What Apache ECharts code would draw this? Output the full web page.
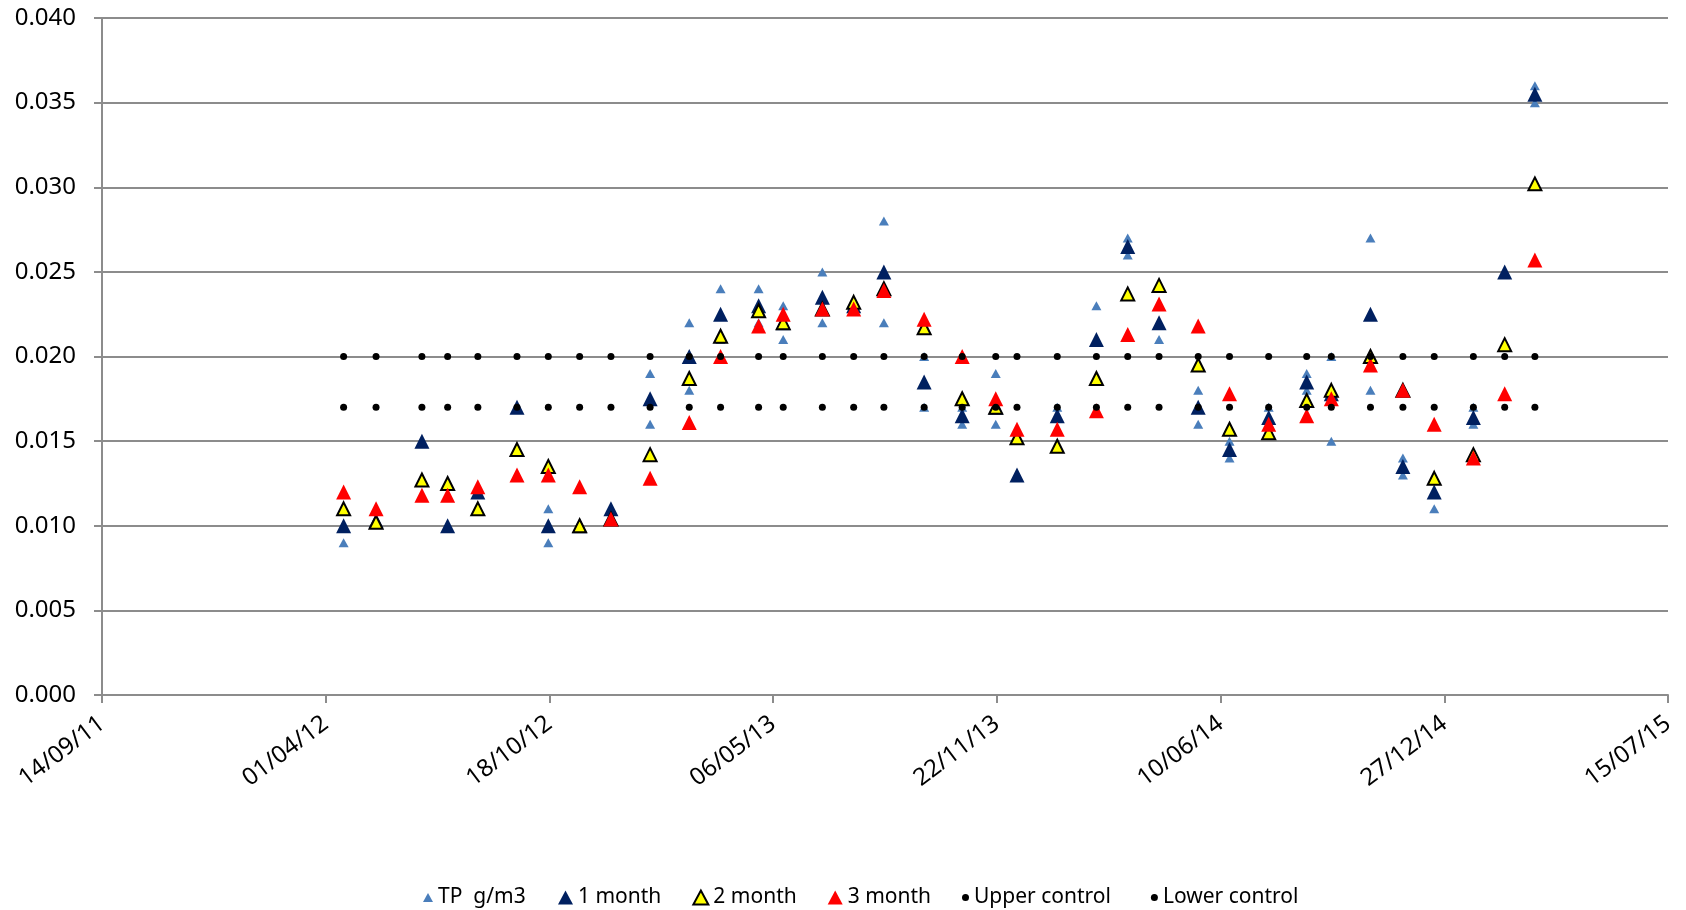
<!DOCTYPE html>
<html>
<head>
<meta charset="utf-8">
<script src="https://cdn.jsdelivr.net/npm/echarts@6/dist/echarts.min.js"></script>
<style>
  html, body { margin: 0; padding: 0; background: #fff; }
  #main { width: 1686px; height: 910px; }
</style>
</head>
<body>
<div id="main"></div>
<script>
// sample dates shared by the monthly averages and control limits
var dates = ['2012-04-17','2012-05-16','2012-06-26','2012-07-19','2012-08-15','2012-09-19','2012-10-17','2012-11-14','2012-12-12',
  '2013-01-16','2013-02-20','2013-03-20','2013-04-23','2013-05-15','2013-06-19','2013-07-17','2013-08-13','2013-09-18','2013-10-22',
  '2013-11-21','2013-12-10','2014-01-15','2014-02-19','2014-03-19','2014-04-16','2014-05-21','2014-06-18','2014-07-23','2014-08-26',
  '2014-09-17','2014-10-22','2014-11-20','2014-12-18','2015-01-22','2015-02-19','2015-03-18'];

var month1 = [0.010,0.0103,0.015,0.010,0.012,0.017,0.010,0.010,0.011,0.0175,0.020,0.0225,0.023,0.022,0.0235,0.023,0.025,0.0185,0.0165,
  0.017,0.013,0.0165,0.021,0.0265,0.022,0.017,0.0145,0.0164,0.0185,0.0178,0.0225,0.0135,0.012,0.0164,0.025,0.0355];
var month2 = [0.011,0.0102,0.0127,0.0125,0.011,0.0145,0.0135,0.010,0.0104,0.0142,0.0187,0.0212,0.0227,0.022,0.0228,0.0232,0.024,0.0217,0.0175,
  0.017,0.0152,0.0147,0.0187,0.0237,0.0242,0.0195,0.0157,0.0155,0.0174,0.018,0.020,0.018,0.0128,0.0142,0.0207,0.0302];
var month3 = [0.012,0.011,0.0118,0.0118,0.0123,0.013,0.013,0.0123,0.0104,0.0128,0.0161,0.020,0.0218,0.0225,0.0228,0.0228,0.0239,0.0222,0.020,
  0.0175,0.0157,0.0157,0.0168,0.0213,0.0231,0.0218,0.0178,0.016,0.0165,0.0175,0.0195,0.018,0.016,0.014,0.0178,0.0257];
var upperControl = [0.020,0.020,0.020,0.020,0.020,0.020,0.020,0.020,0.020,0.020,0.020,0.020,0.020,0.020,0.020,0.020,0.020,0.020,0.020,
  0.020,0.020,0.020,0.020,0.020,0.020,0.020,0.020,0.020,0.020,0.020,0.020,0.020,0.020,0.020,0.020,0.020];
var lowerControl = [0.017,0.017,0.017,0.017,0.017,0.017,0.017,0.017,0.017,0.017,0.017,0.017,0.017,0.017,0.017,0.017,0.017,0.017,0.017,
  0.017,0.017,0.017,0.017,0.017,0.017,0.017,0.017,0.017,0.017,0.017,0.017,0.017,0.017,0.017,0.017,0.017];

// raw TP samples (some dates have two samples)
var tpDates = ['2012-04-17','2012-05-16','2012-06-26','2012-07-19','2012-08-15','2012-09-19','2012-10-17','2012-10-17','2012-11-14',
  '2012-12-12','2013-01-16','2013-01-16','2013-02-20','2013-02-20','2013-03-20','2013-03-20','2013-04-23','2013-04-23','2013-05-15',
  '2013-05-15','2013-06-19','2013-06-19','2013-07-17','2013-08-13','2013-08-13','2013-09-18','2013-09-18','2013-10-22','2013-10-22',
  '2013-11-21','2013-11-21','2013-12-10','2014-01-15','2014-02-19','2014-03-19','2014-03-19','2014-04-16','2014-05-21','2014-05-21',
  '2014-06-18','2014-06-18','2014-07-23','2014-08-26','2014-08-26','2014-09-17','2014-09-17','2014-10-22','2014-10-22','2014-11-20',
  '2014-11-20','2014-12-18','2015-01-22','2015-01-22','2015-02-19','2015-03-18','2015-03-18'];
var tpValues = [0.009,0.0101,0.015,0.010,0.012,0.017,0.011,0.009,0.010,
  0.011,0.019,0.016,0.022,0.018,0.024,0.021,0.024,0.022,0.023,
  0.021,0.025,0.022,0.0228,0.028,0.022,0.020,0.017,0.017,0.016,
  0.019,0.016,0.013,0.017,0.023,0.027,0.026,0.021,0.018,0.016,
  0.015,0.014,0.017,0.019,0.018,0.020,0.015,0.027,0.018,0.014,
  0.013,0.011,0.017,0.016,0.025,0.036,0.035];

// x axis runs in days from the first tick label
var startDate = '2011-09-14';
var axisDays = 1400;
var tickDays = 200;

var DAY = 86400000;
function toUtc(s) {
  var p = s.split('-');
  return Date.UTC(+p[0], +p[1] - 1, +p[2]);
}
var t0 = toUtc(startDate);
function dayOf(s) { return Math.round((toUtc(s) - t0) / DAY); }
function pad(n) { return n < 10 ? '0' + n : '' + n; }
function fmtDay(v) {
  var d = new Date(t0 + v * DAY);
  return pad(d.getUTCDate()) + '/' + pad(d.getUTCMonth() + 1) + '/' + pad(d.getUTCFullYear() % 100);
}
function pairs(ds, vs) {
  var out = [];
  for (var i = 0; i < ds.length; i++) {
    if (vs[i] != null) out.push([dayOf(ds[i]), vs[i]]);
  }
  return out;
}

var font = '"Noto Sans", "Liberation Sans", sans-serif';
var gridColor = '#8c8c8c';

var chart = echarts.init(document.getElementById('main'));
var option = {
  animation: false,
  backgroundColor: '#fff',
  grid: { left: 102, right: 18, top: 18, bottom: 215, containLabel: false },
  legend: [
    {
      data: ['TP  g/m3'], left: 418, top: 882, icon: 'triangle',
      itemWidth: 10, itemHeight: 9,
      textStyle: { fontFamily: font, fontSize: 21, color: '#000' }
    },
    {
      data: ['1 month', '2 month', '3 month'], left: 553, top: 882, icon: 'triangle',
      itemWidth: 15, itemHeight: 14, itemGap: 31,
      textStyle: { fontFamily: font, fontSize: 21, color: '#000' }
    },
    {
      data: ['Upper control', 'Lower control'], left: 957, top: 882, icon: 'circle',
      itemWidth: 7, itemHeight: 7, itemGap: 40,
      textStyle: { fontFamily: font, fontSize: 21, color: '#000' }
    }
  ],
  xAxis: {
    type: 'value',
    min: 0, max: axisDays, interval: tickDays,
    axisLine: { lineStyle: { color: gridColor, width: 2 } },
    axisTick: { show: true, length: 8, lineStyle: { color: gridColor, width: 2 } },
    splitLine: { show: false },
    axisLabel: {
      rotate: 37, margin: 26, fontFamily: font, fontSize: 24, color: '#000',
      formatter: fmtDay
    }
  },
  yAxis: {
    type: 'value',
    min: 0, max: 0.04, interval: 0.005,
    axisLine: { show: true, lineStyle: { color: gridColor, width: 2 } },
    axisTick: { show: true, length: 8, lineStyle: { color: gridColor, width: 2 } },
    splitLine: { show: true, lineStyle: { color: gridColor, width: 2 } },
    axisLabel: {
      margin: 26, fontFamily: font, fontSize: 24, color: '#000',
      formatter: function (v) { return v.toFixed(3); }
    }
  },
  series: [
    {
      name: 'TP  g/m3', type: 'scatter', symbol: 'triangle', symbolSize: [10, 9],
      itemStyle: { color: '#4a7ebb', opacity: 1 },
      data: pairs(tpDates, tpValues)
    },
    {
      name: '1 month', type: 'scatter', symbol: 'triangle', symbolSize: [15, 15],
      itemStyle: { color: '#002060', opacity: 1 },
      data: pairs(dates, month1)
    },
    {
      name: '2 month', type: 'scatter', symbol: 'triangle', symbolSize: [13, 13],
      itemStyle: { color: '#ffff00', borderColor: '#000', borderWidth: 2, opacity: 1 },
      data: pairs(dates, month2)
    },
    {
      name: '3 month', type: 'scatter', symbol: 'triangle', symbolSize: [15, 15],
      itemStyle: { color: '#ff0000', opacity: 1 },
      data: pairs(dates, month3)
    },
    {
      name: 'Upper control', type: 'scatter', symbol: 'circle', symbolSize: 7,
      itemStyle: { color: '#000', opacity: 1 },
      data: pairs(dates, upperControl)
    },
    {
      name: 'Lower control', type: 'scatter', symbol: 'circle', symbolSize: 7,
      itemStyle: { color: '#000', opacity: 1 },
      data: pairs(dates, lowerControl)
    }
  ]
};
chart.setOption(option);
</script>
</body>
</html>
